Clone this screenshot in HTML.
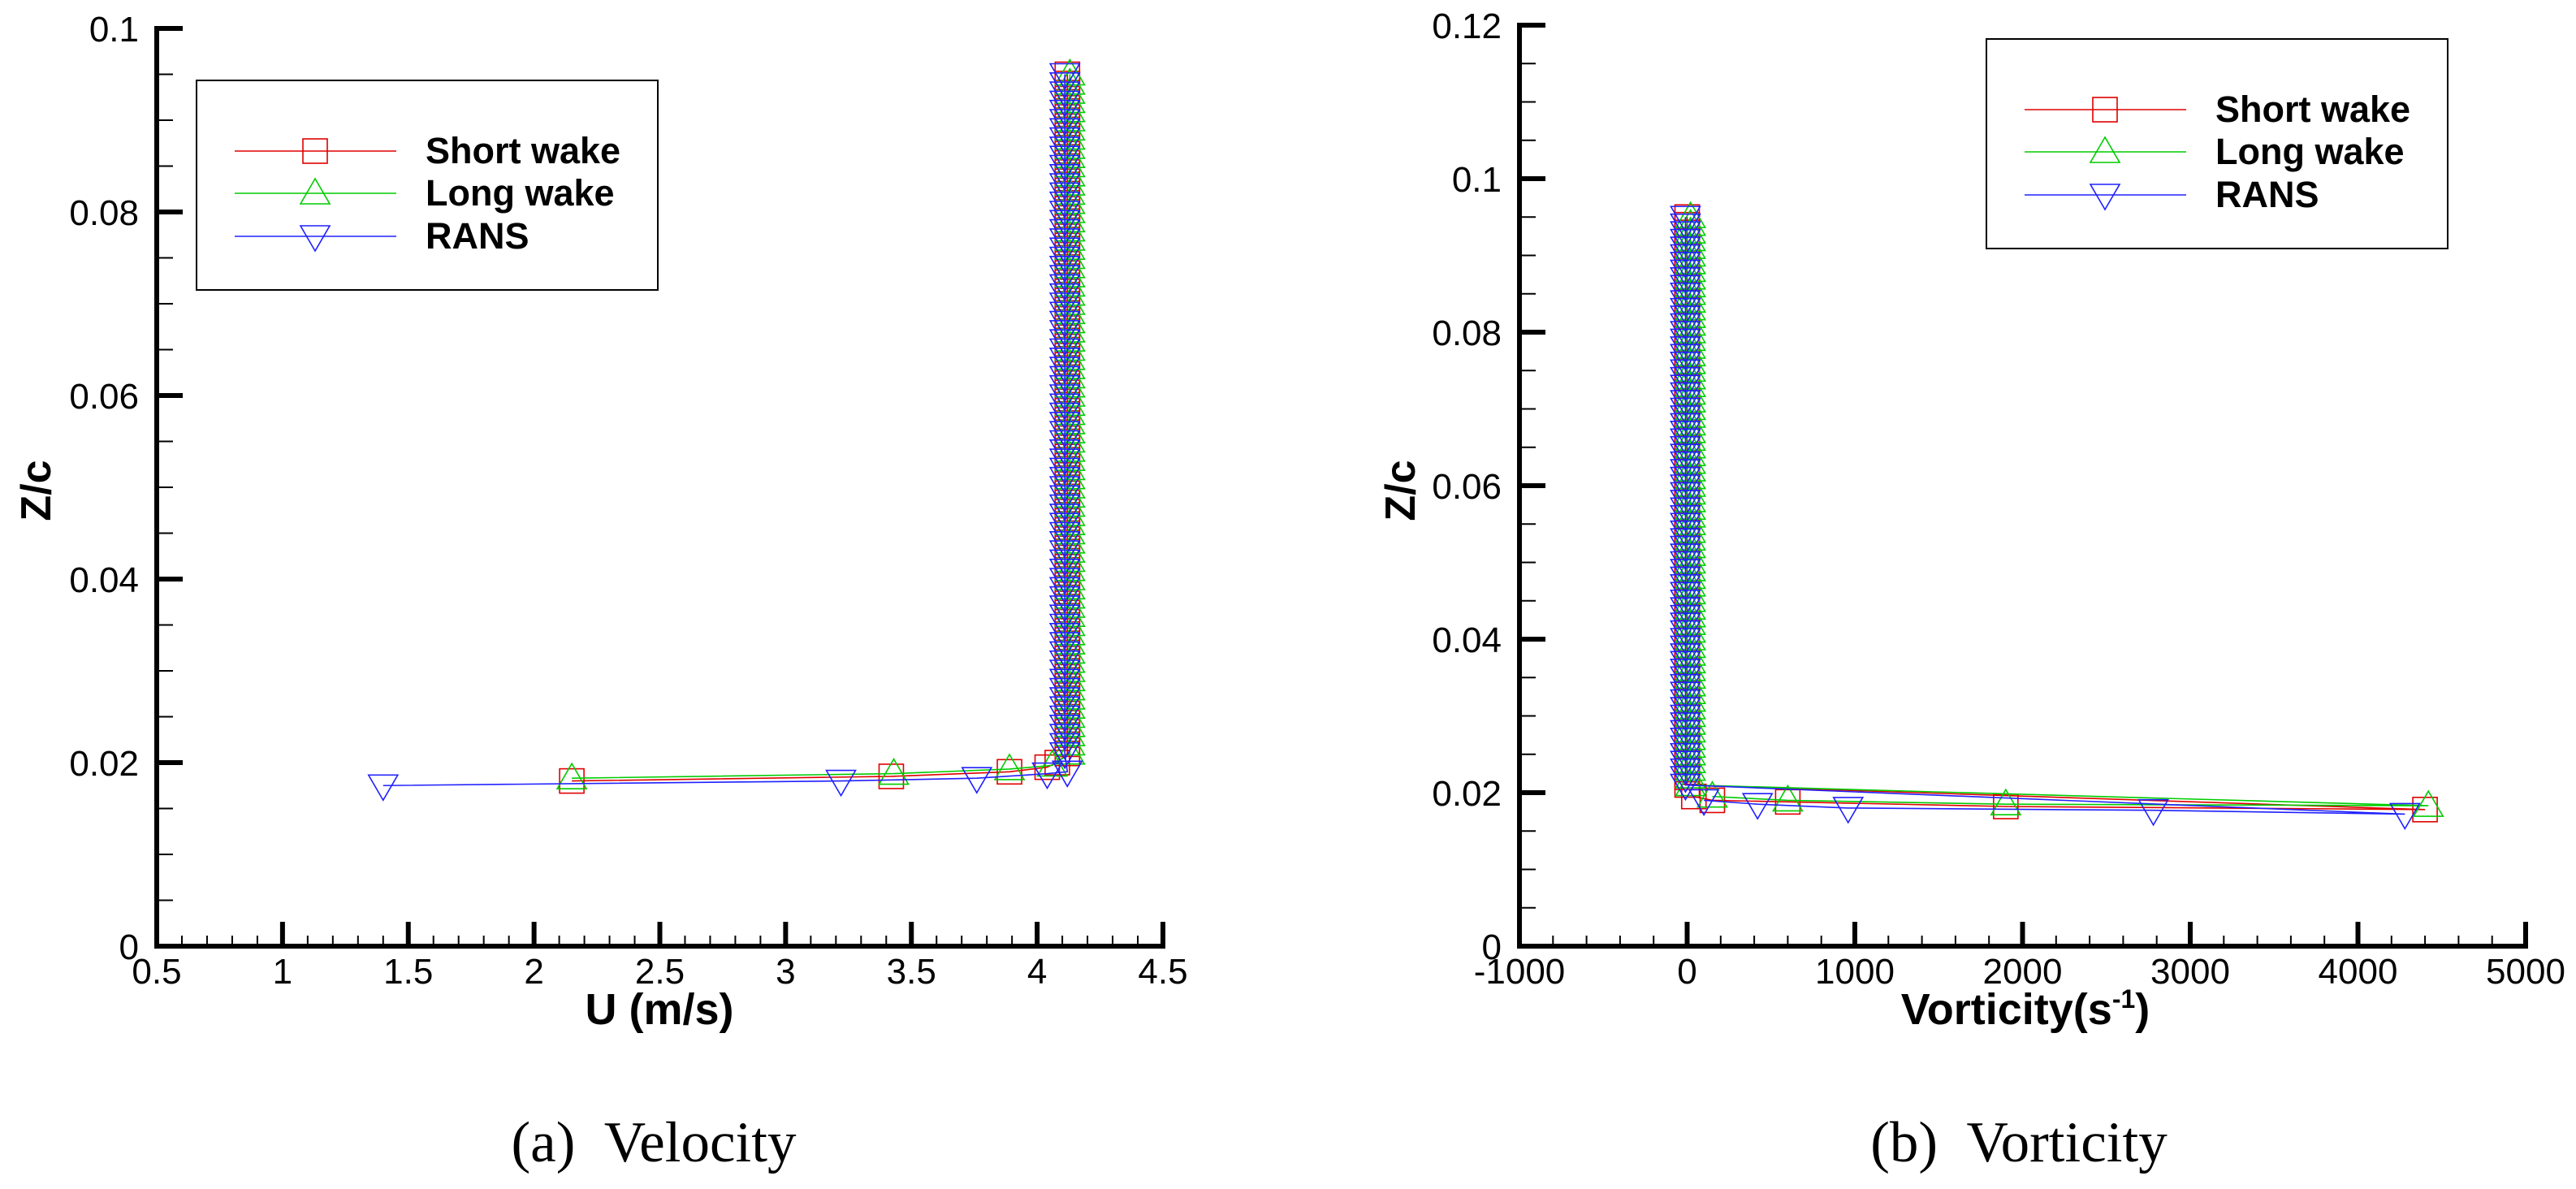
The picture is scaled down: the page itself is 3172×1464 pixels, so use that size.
<!DOCTYPE html>
<html><head><meta charset="utf-8"><style>
html,body{margin:0;padding:0;background:#fff;}
svg{display:block;}
text{font-family:"Liberation Sans",Arial,sans-serif;}
</style></head><body>
<svg id="fig" width="3172" height="1464" viewBox="0 0 3172 1464" xmlns="http://www.w3.org/2000/svg"></svg>
<script>
// ---------- data: velocity panel ----------
const velShortU = [2.15, 3.42, 3.89, 4.04, 4.08];
const velShortZ = [0.0180, 0.0185, 0.0190, 0.0195, 0.0200];
const velLongU = [2.15, 3.43, 3.89, 4.06];
const velLongZ = [0.0183, 0.0188, 0.0193, 0.0197];
const velRansU = [1.40, 3.22, 3.76, 4.04, 4.12];
const velRansZ = [0.0175, 0.0180, 0.0183, 0.0188, 0.0190];
const velColumnU = [4.12, 4.13, 4.11];
// ---------- data: vorticity panel ----------
const vorShortW = [40, 150, 600, 1900, 4400];
const vorShortZ = [0.0195, 0.0190, 0.0188, 0.0182, 0.0178];
const vorLongW = [150, 600, 1900, 4420];
const vorLongZ = [0.0195, 0.0190, 0.0185, 0.0183];
const vorRansW = [100, 420, 960, 2780, 4280];
const vorRansZ = [0.0190, 0.0185, 0.0180, 0.0177, 0.0172];
const vorColumnW = [0, 20, -10];
// shared column heights (dense profile above the wake)
const columnZ = [0.021,0.022,0.023,0.024,0.025,0.026,0.027,0.028,0.029,0.030,0.031,0.032,0.033,0.034,0.035,0.036,0.037,0.038,0.039,0.040,0.041,0.042,0.043,0.044,0.045,0.046,0.047,0.048,0.049,0.050,0.051,0.052,0.053,0.054,0.055,0.056,0.057,0.058,0.059,0.060,0.061,0.062,0.063,0.064,0.065,0.066,0.067,0.068,0.069,0.070,0.071,0.072,0.073,0.074,0.075,0.076,0.077,0.078,0.079,0.080,0.081,0.082,0.083,0.084,0.085,0.086,0.087,0.088,0.089,0.090,0.091,0.092,0.093,0.094,0.095];
// tick labels
const velXTicks = ["0.5","1","1.5","2","2.5","3","3.5","4","4.5"];
const velYTicks = ["0","0.02","0.04","0.06","0.08","0.1"];
const vorXTicks = ["-1000","0","1000","2000","3000","4000","5000"];
const vorYTicks = ["0","0.02","0.04","0.06","0.08","0.1","0.12"];
const seriesNames = ["Short wake","Long wake","RANS"];

const NS="http://www.w3.org/2000/svg";
const svg=document.getElementById('fig');
function mk(tag,attrs,parent,txt){const e=document.createElementNS(NS,tag);for(const k in attrs)e.setAttribute(k,attrs[k]);if(txt!==undefined)e.textContent=txt;(parent||svg).appendChild(e);return e;}
const COL=["#e00000","#00cc00","#2020ff"];

function marker(g,type,x,y,color){
  let e;
  if(type===0){e=mk('rect',{x:x-15,y:y-15,width:30,height:30,fill:'none',stroke:color,'stroke-width':1.6},g);}
  else if(type===1){e=mk('polygon',{points:`${x},${y-18} ${x-18},${y+13} ${x+18},${y+13}`,fill:'none',stroke:color,'stroke-width':1.6},g);}
  else {e=mk('polygon',{points:`${x},${y+18} ${x-18},${y-13} ${x+18},${y-13}`,fill:'none',stroke:color,'stroke-width':1.6},g);}
  
  
}

function panel(cfg){
  const g=mk('g',{});
  
  
  const X=cfg.x, Y=cfg.y;
  cfg.series.forEach((s,si)=>{
    const sg=mk('g',{},g);
    
    
    const pts=[];
    for(let i=0;i<s.xs.length;i++)pts.push([X(s.xs[i]),Y(s.zs[i])]);
    const cx=X(s.col);
    for(let i=0;i<columnZ.length;i++)pts.push([cx,Y(columnZ[i])]);
    const pl=mk('polyline',{points:pts.map(p=>p.join(',')).join(' '),fill:'none',stroke:COL[si],'stroke-width':1.6},sg);
    
    
    pts.forEach(p=>marker(sg,si,p[0],p[1],COL[si]));
  });
  const ax=mk('g',{},g);
  
  
  const x0=cfg.xmin, x1=cfg.xmax, y1=cfg.ymax;
  const ox=X(x0), oy=Y(0);
  for(let v=x0;v<=x1+1e-9;v+=cfg.xminor){mk('line',{x1:X(v),x2:X(v),y1:oy,y2:oy-13,stroke:'#000','stroke-width':2},ax);}
  for(let v=0;v<=y1+1e-9;v+=0.005){mk('line',{x1:ox,x2:ox+20,y1:Y(v),y2:Y(v),stroke:'#000','stroke-width':2},ax);}
  cfg.xticks.forEach(t=>{const v=parseFloat(t);mk('line',{x1:X(v),x2:X(v),y1:oy,y2:oy-30,stroke:'#000','stroke-width':6},ax);
    const e=mk('text',{x:X(v),y:oy+46,'font-size':44,'text-anchor':'middle'},ax,t);
    });
  cfg.yticks.forEach(t=>{const v=parseFloat(t);mk('line',{x1:ox,x2:ox+32,y1:Y(v),y2:Y(v),stroke:'#000','stroke-width':6},ax);
    const e=mk('text',{x:ox-22,y:Y(v)+16,'font-size':44,'text-anchor':'end'},ax,t);
    });
  mk('path',{d:`M${ox},${Y(y1)} L${ox},${oy} L${X(x1)},${oy}`,fill:'none',stroke:'#000','stroke-width':6,'stroke-linecap':'square'},ax);
  const lg=mk('g',{transform:`translate(${cfg.lx},${cfg.ly})`},g);
  
  
  mk('rect',{x:242,y:99,width:568,height:258,fill:'#fff',stroke:'#000','stroke-width':2},lg);
  const ys=[186,238,291];
  seriesNames.forEach((n,i)=>{
    const eg=mk('g',{},lg);
    
    
    mk('line',{x1:289,x2:488,y1:ys[i],y2:ys[i],stroke:COL[i],'stroke-width':1.6},eg);
    marker(eg,i,388,ys[i],COL[i]);
    mk('text',{x:524,y:ys[i]+15,'font-size':45,'font-weight':'bold'},eg,n);
  });
  const xt=mk('text',{x:cfg.xtx,y:1261,'font-size':54,'font-weight':'bold','text-anchor':'middle'},g);
  
  xt.innerHTML=cfg.xtitle;
  const yt=mk('text',{transform:`translate(${cfg.ytx},604) rotate(-90)`,'font-size':52,'font-weight':'bold','text-anchor':'middle'},g,'Z/c');
  
  const cp=mk('text',{x:cfg.capx,y:1430,'font-size':71,'text-anchor':'middle','style':'font-family:"Liberation Serif",serif'},g,cfg.caption);
  
}

panel({name:'velocity-panel',
  x:u=>193+(u-0.5)*309.75, y:z=>1165-z*11300,
  xmin:0.5,xmax:4.5,xminor:0.1,ymax:0.1,
  xticks:velXTicks,yticks:velYTicks,
  series:[{xs:velShortU,zs:velShortZ,col:velColumnU[0]},{xs:velLongU,zs:velLongZ,col:velColumnU[1]},{xs:velRansU,zs:velRansZ,col:velColumnU[2]}],
  lx:0,ly:0,xtx:812,xtitle:'U (m/s)',ytx:62,capx:805,caption:'(a)\u00a0\u00a0Velocity'});
panel({name:'vorticity-panel',
  x:w=>1871+(w+1000)*0.2065, y:z=>1165-z*9450,
  xmin:-1000,xmax:5000,xminor:200,ymax:0.12,
  xticks:vorXTicks,yticks:vorYTicks,
  series:[{xs:vorShortW,zs:vorShortZ,col:vorColumnW[0]},{xs:vorLongW,zs:vorLongZ,col:vorColumnW[1]},{xs:vorRansW,zs:vorRansZ,col:vorColumnW[2]}],
  lx:2204,ly:-51,xtx:2494,xtitle:'Vorticity(s<tspan dy="-20" font-size="32">-1</tspan><tspan dy="20">)</tspan>',ytx:1742,capx:2486,caption:'(b)\u00a0\u00a0Vorticity'});
</script>
</body></html>
